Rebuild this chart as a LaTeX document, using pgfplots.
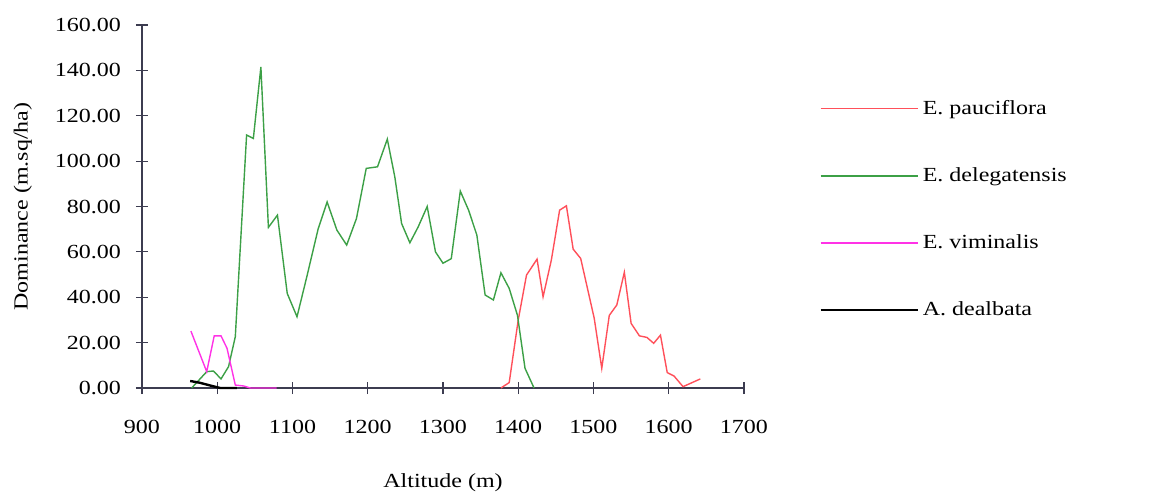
\documentclass[border=0pt]{standalone}
\usepackage{fontspec}
\setmainfont{Liberation Serif}[FakeStretch=1.2]
\usepackage{pgfplots}
\pgfplotsset{compat=1.18}
\definecolor{cred}{RGB}{255,80,90}
\definecolor{cgreen}{RGB}{60,160,70}
\definecolor{cmag}{RGB}{255,50,230}
\definecolor{caxis}{RGB}{60,60,80}
\begin{document}
\begin{tikzpicture}
\path[use as bounding box] (-71pt,-53pt) rectangle (515pt,194pt);
\begin{axis}[
  scale only axis, width=301pt, height=181.5pt,
  at={(0,0)}, anchor=south west,
  xmin=900, xmax=1700, ymin=0, ymax=160,
  clip=false,
  axis x line*=bottom, axis y line*=left,
  xtick={900,1000,...,1700}, ytick={0,20,...,160},
  tick align=center, major tick length=6pt,
  axis line style={caxis, line width=0.6pt},
  tick style={caxis, line width=0.6pt},
  /pgf/number format/assume math mode=true,
  xticklabel style={/pgf/number format/1000 sep={}, yshift=-9.5pt},
  yticklabel style={/pgf/number format/fixed, /pgf/number format/fixed zerofill, /pgf/number format/precision=2, xshift=-4pt},
  xlabel={Altitude (m)}, ylabel={Dominance (m.sq/ha)},
  xlabel style={at={(axis description cs:0.5,-0.262)}, anchor=center},
  ylabel style={at={(axis description cs:-0.198,0.5)}, anchor=center},
  legend cell align=left,
  legend style={at={(axis description cs:1.1246,0.805)}, anchor=north west, draw=none, fill=none, inner sep=0pt, row sep=21.1pt, /tikz/every even column/.append style={column sep=6pt}},
  legend image code/.code={\draw[#1] (0pt,0pt) -- (48.5pt,0pt);},
]
\addplot[cred, line width=0.7pt] coordinates {
(1377,0) (1388,2.4) (1400,30) (1411,49.8) (1425,56.8) (1433,40.2) (1444,56.4)
(1455,78.4) (1464,80.3) (1473,61.2) (1483,57.1) (1501,30.7) (1511,8.7) (1521,32)
(1531,36.6) (1541,51) (1550,28.5) (1561,23) (1571,22.3) (1580,19.7) (1589,23.3)
(1598,6.8) (1607,5.3) (1619,0.6) (1642,4)
};
\addlegendentry{E. pauciflora}
\addplot[cgreen, line width=0.7pt] coordinates {
(966,0) (986,7.2) (995,7.5) (1005,4) (1015,9.4) (1024,22.6) (1039,111.5) (1048,110)
(1058,141.5) (1068,70.8) (1080,76.2) (1093,41.7) (1106,31.4) (1119,49) (1134,70)
(1146,82) (1159,69.6) (1172,63) (1185,74.7) (1198,96.8) (1213,97.5) (1226,109.7)
(1236,93) (1245,72.5) (1256,64) (1267,71) (1279,80) (1290,60) (1300,55) (1311,57)
(1323,86.8) (1334,78.4) (1345,67.4) (1356,41) (1367,38.8) (1377,50.8) (1388,43.9)
(1399,32) (1409,8.7) (1421,0)
};
\addlegendentry{E. delegatensis}
\addplot[cmag, line width=0.7pt] coordinates {
(965,25.1) (986,7.2) (996,23) (1005,23) (1013,17.5) (1024,1.3) (1035,0.9) (1044,0) (1079,0)
};
\addlegendentry{E. viminalis}
\addplot[black, line width=1.2pt] coordinates {
(964,3.1) (977,2.3) (993,0.9) (1004,0) (1026,0)
};
\addlegendentry{A. dealbata}
\end{axis}
\end{tikzpicture}
\end{document}
